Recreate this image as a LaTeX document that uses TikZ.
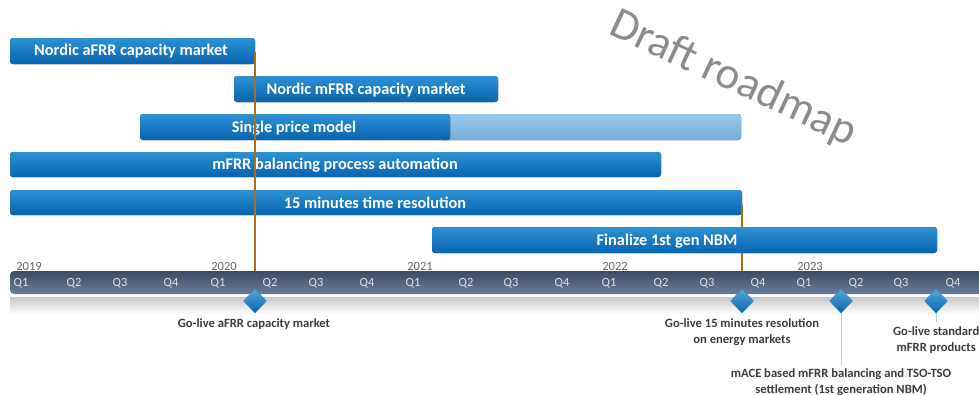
\documentclass[tikz,border=0pt]{standalone}
\usepackage{fontspec}
\setmainfont{Carlito}
\usetikzlibrary{shapes.geometric}
\definecolor{bartop}{RGB}{45,145,212}
\definecolor{barbot}{RGB}{8,100,175}
\definecolor{lighttop}{RGB}{150,200,235}
\definecolor{lightbot}{RGB}{120,175,215}
\definecolor{tltop}{RGB}{60,75,100}
\definecolor{tlbot}{RGB}{105,125,155}
\definecolor{brownline}{RGB}{170,110,30}
\definecolor{labelgray}{RGB}{60,60,60}
\definecolor{draftgray}{RGB}{140,140,140}
\tikzset{
  bar/.style={rounded corners=3pt, top color=bartop, bottom color=barbot, draw=none},
  lightbar/.style={rounded corners=3pt, top color=lighttop, bottom color=lightbot, draw=none},
  bartext/.style={text=white, font=\fontsize{16.3}{17}\selectfont\bfseries, inner sep=0pt},
  qlab/.style={text=white!88!black, font=\fontsize{12.5}{13}\selectfont, inner sep=0pt},
  ylab/.style={text=black!60, font=\fontsize{12.5}{13}\selectfont, inner sep=0pt},
  mile/.style={diamond, aspect=1, minimum width=23pt, minimum height=24pt, inner sep=0pt, top color=bartop!80!white, bottom color=barbot, draw=barbot!80!white, line width=0.4pt},
  mlab/.style={text=labelgray, font=\fontsize{12.6}{16}\selectfont\bfseries, align=center, inner sep=0pt},
  vline/.style={brownline, line width=1.6pt},
  pin/.style={blue!30!cyan!40!white, line width=0.8pt}
}
\begin{document}
\begin{tikzpicture}[x=1pt,y=-1pt]
\useasboundingbox (0,0) rectangle (979,394);
\clip (0,0) rectangle (979,394);
\fill[white] (0,0) rectangle (979,394);

% watermark
\node[rotate=-25, text=draftgray, font=\fontsize{45}{45}\selectfont] (draft) at (733,79) {Draft roadmap};

% vertical brown lines
\coordinate (v1top) at (255,52);
\coordinate (v1bot) at (255,290);
\coordinate (v2top) at (742,205);
\coordinate (v2bot) at (742,290);

% reflection band
\shade[top color=black!22, bottom color=white] (10,297) rectangle (979,314);

% bars
\fill[bar] (10,38) rectangle (255,64);
\node[bartext] (b1) at (131,51) {Nordic aFRR capacity market};

\fill[bar] (234,76) rectangle (498,102);
\node[bartext] (b2) at (366,90) {Nordic mFRR capacity market};

\fill[lightbar] (440,114) rectangle (741,140);
\fill[bar] (140,114) rectangle (450,140);
\node[bartext] (b3) at (294,128) {Single price model};

\fill[bar] (10,152) rectangle (661,177);
\node[bartext] (b4) at (335,165) {mFRR balancing process automation};

\fill[bar] (10,190) rectangle (742,215);
\node[bartext] (b5) at (375,203) {15 minutes time resolution};

\draw[vline] (v1top) -- (v1bot);
\draw[vline] (v2top) -- (v2bot);

\fill[bar] (432,227) rectangle (937,253);
\node[bartext] (b6) at (667,241) {Finalize 1st gen NBM};

% timeline
\shade[top color=tltop, bottom color=tlbot, rounded corners=4pt] (10,271) rectangle (995,294);

\foreach \x/\y in {29/2019,224/2020,420/2021,615/2022,810/2023}
  \node[ylab] at (\x,266) {\y};
\foreach \x/\q in {21/1,74/2,120/3,171/4,218/1,270/2,316/3,367/4,413/1,466/2,511/3,562/4,609/1,661/2,707/3,758/4,804/1,856/2,901/3,953/4}
  \node[qlab] at (\x,283) {Q\q};

% pins
\coordinate (p3end) at (841,366);
\coordinate (p4end) at (936,322);
\draw[pin] (841,301) -- (p3end);
\draw[pin] (936,301) -- (p4end);

% milestones
\node[mile] (m1) at (255,301) {};
\node[mile] (m2) at (742,301) {};
\node[mile] (m3) at (841,301) {};
\node[mile] (m4) at (936,301) {};

\node[mlab] (l1) at (254,324) {Go-live aFRR capacity market};
\node[mlab] (l2) at (742,332) {Go-live 15 minutes resolution\\on energy markets};
\node[mlab, anchor=west] (l4) at (893,340) {Go-live standard\\mFRR products};
\node[mlab] (l3) at (841,382) {mACE based mFRR balancing and TSO-TSO\\settlement (1st generation NBM)};
\end{tikzpicture}
\end{document}
